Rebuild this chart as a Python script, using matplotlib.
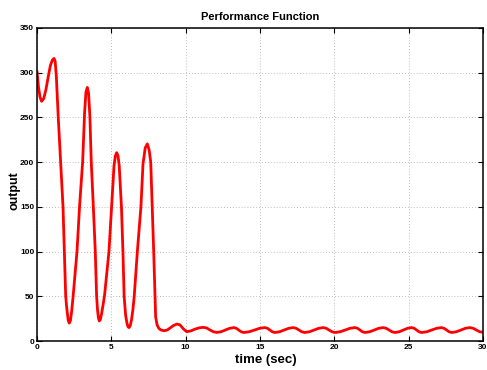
import matplotlib
matplotlib.use("Agg")
import matplotlib.pyplot as plt

# Data (time in sec, output value)
t = [0.00, 0.10, 0.20, 0.31, 0.45, 0.60, 0.75, 0.90, 1.03, 1.14, 1.22, 1.30, 1.43, 1.59, 1.70, 1.75, 1.84, 1.93, 2.00, 2.05, 2.10, 2.17, 2.25, 2.33, 2.43,
     2.69, 2.86, 3.07, 3.20, 3.29, 3.38, 3.47, 3.56, 3.65, 3.79, 3.92, 4.01, 4.07, 4.13, 4.19, 4.26, 4.35, 4.45, 4.55,
     4.84, 5.02, 5.18, 5.27, 5.36, 5.45, 5.53, 5.68, 5.78, 5.86, 5.96, 6.05, 6.12, 6.19, 6.27, 6.36, 6.45, 6.54,
     6.75, 6.99, 7.13, 7.28, 7.42, 7.54, 7.65, 7.75, 7.85, 7.94, 7.98, 8.08, 8.20, 8.35, 8.55,
     8.75, 8.95, 9.15, 9.40, 9.62, 9.85, 10.07, 10.35, 10.62, 10.90, 11.18, 11.42, 11.65, 11.87, 12.08,
     12.37, 12.66, 12.96, 13.25, 13.41, 13.57, 13.74, 13.90,
     14.26, 14.62, 14.97, 15.33, 15.50, 15.67, 15.83, 16.00,
     16.31, 16.62, 16.93, 17.24, 17.43, 17.62, 17.81, 18.00,
     18.32, 18.63, 18.95, 19.26, 19.46, 19.65, 19.85, 20.04,
     20.38, 20.72, 21.05, 21.39, 21.56, 21.73, 21.89, 22.06,
     22.37, 22.68, 22.98, 23.29, 23.49, 23.69, 23.88, 24.08,
     24.36, 24.64, 24.92, 25.20, 25.37, 25.54, 25.70, 25.87,
     26.21, 26.54, 26.88, 27.21, 27.38, 27.55, 27.72, 27.89,
     28.20, 28.51, 28.81, 29.12, 29.34, 29.56, 29.78, 30.00]
output = [301, 284, 273, 268, 271, 281, 295, 308, 314, 316, 313, 296, 250, 200, 165, 150, 100, 50, 37, 30, 23, 20, 23, 33, 50,
          100, 150, 200, 255, 278, 283.5, 277, 250, 200, 150, 100, 50, 35, 26, 22.4, 24, 31, 41, 52,
          100, 150, 196, 207, 210.6, 207, 196, 150, 100, 50, 29, 20, 16, 15, 17, 24, 35, 50,
          100, 150, 198, 216, 220.4, 214, 200, 150, 100, 50, 27, 18, 14, 12.2, 11.5,
          12.2, 14.5, 17, 19, 18, 13.5, 10.4, 11.3, 13.2, 14.7, 15.3, 14.5, 12.2, 10.3, 9.6,
          10.3, 12.2, 14.2, 15.0, 14.2, 12.2, 10.3, 9.5,
          10.3, 12.2, 14.2, 15.0, 14.2, 12.2, 10.3, 9.5,
          10.3, 12.2, 14.2, 15.0, 14.2, 12.2, 10.3, 9.5,
          10.3, 12.2, 14.2, 15.0, 14.2, 12.2, 10.3, 9.5,
          10.3, 12.2, 14.2, 15.0, 14.2, 12.2, 10.3, 9.5,
          10.3, 12.2, 14.2, 15.0, 14.2, 12.2, 10.3, 9.5,
          10.3, 12.2, 14.2, 15.0, 14.2, 12.2, 10.3, 9.5,
          10.3, 12.2, 14.2, 15.0, 14.2, 12.2, 10.3, 9.5,
          10.3, 12.2, 14.2, 15.0, 14.2, 12.2, 10.3, 9.8]

xticks = [0, 5, 10, 15, 20, 25, 30]
yticks = [0, 50, 100, 150, 200, 250, 300, 350]

plt.rcParams['font.family'] = ['Liberation Sans', 'DejaVu Sans']

fig = plt.figure(figsize=(4.87, 3.70), dpi=100)
ax = fig.add_axes([37/487, 29/370, (483-37)/487, (341-28)/370])
ax.plot(t, output, color='#ff0000', linewidth=2.0, solid_joinstyle='round')
ax.set_xlim(0, 30)
ax.set_ylim(0, 350)
ax.set_xticks(xticks)
ax.set_yticks(yticks)
ax.set_xticklabels([str(v) for v in xticks], fontsize=6, fontweight='bold')
ax.set_yticklabels([str(v) for v in yticks], fontsize=6, fontweight='bold')
ax.tick_params(direction='in', length=3.5, width=0.8, top=True, right=True, pad=2)
ax.grid(True, linestyle=(0, (1, 2.5)), color='#a8a8a8', linewidth=0.6)
for s in ax.spines.values():
    s.set_linewidth(1.1)
ax.set_title('Performance Function', fontsize=8, fontweight='bold', pad=6)
ax.set_xlabel('time (sec)', fontsize=9.5, fontweight='bold')
ax.set_ylabel('output', fontsize=9, fontweight='bold')
ax.xaxis.set_label_coords(0.513, -0.04)
ax.yaxis.set_label_coords(-0.037, 0.48)
fig.savefig('out.png', dpi=100)
